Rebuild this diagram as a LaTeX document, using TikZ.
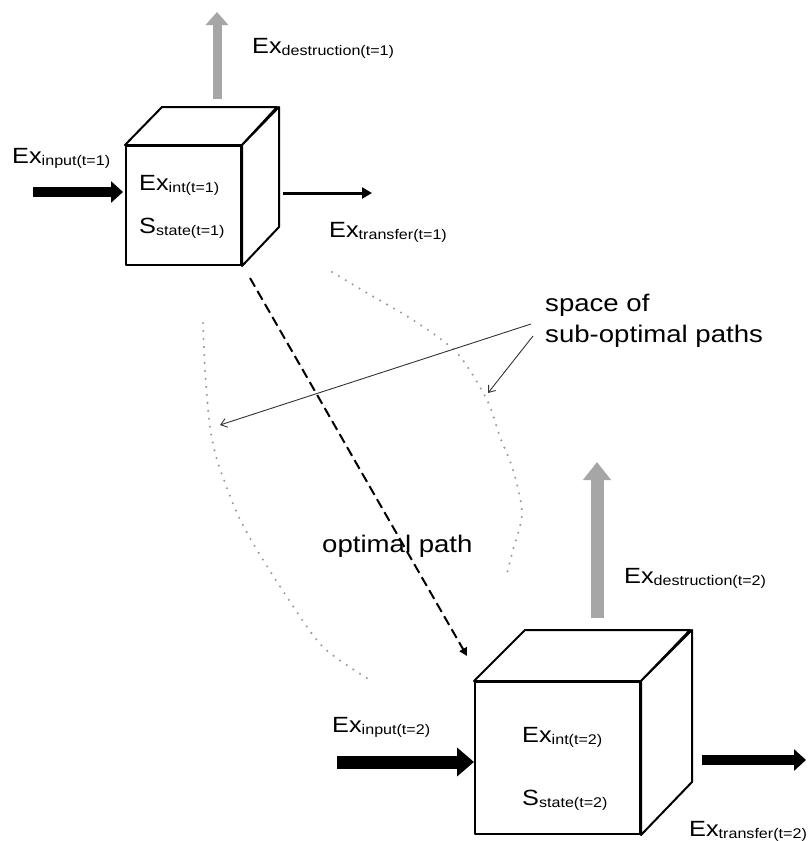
\documentclass[tikz,border=0pt]{standalone}
\usepackage{fontspec}
\setmainfont[FakeStretch=1.15]{Liberation Sans}
\usetikzlibrary{arrows.meta}
\definecolor{arrgray}{HTML}{A6A6A6}
\definecolor{dotgray}{HTML}{999999}
\newcommand\exl[2]{#1\raisebox{-2.5pt}{\fontsize{14}{14}\selectfont #2}}
\begin{document}
\begin{tikzpicture}[x=1pt,y=-1pt,
  lab/.style={anchor=base west, inner sep=0pt, font=\fontsize{22}{26}\selectfont},
  bigtxt/.style={inner sep=0pt, font=\fontsize{24}{31}\selectfont},
  face/.style={draw=black, line width=2pt, line join=round, fill=white},
  blk/.style={line width=#1, -{Triangle[length=12pt,width=21pt]}},
  blk2/.style={line width=13pt, -{Triangle[length=17pt,width=28pt]}},
  thinarr/.style={line width=3pt, -{Triangle[length=10pt,width=11pt]}},
  gry/.style={draw=arrgray, line width=#1},
  dotc/.style={draw=dotgray, line width=2.3pt, line cap=round, dash pattern=on 0pt off 8pt},
  note/.style={draw=black!80, line width=0.9pt, -{Straight Barb[length=6pt,width=9pt]}}
]
\useasboundingbox[fill=white] (0,0) rectangle (808,841);

% ---------- dotted space of sub-optimal paths ----------
\draw[dotc] plot[smooth] coordinates {(203,323) (205,370) (210,427) (218,463) (237,513) (257,550) (287,597) (323,647) (370,680)};
\draw[dotc] plot[smooth] coordinates {(332,272) (367,293) (413,320) (457,353) (487,400) (500,437) (513,470) (522,513) (513,550) (507,573)};

% ---------- cube 1 ----------
\node[face, minimum width=115pt, minimum height=119pt, inner sep=0pt] (c1) at (183.5,205.5) {};
\draw[face] (c1.north west) -- ++(37,-38) -- ++(115,0) -- (c1.north east) -- cycle;
\draw[face] (c1.north east) -- ++(37,-38) -- ++(0,120) -- (c1.south east) -- cycle;
\node[lab] (int1) at (139,190) {\exl{Ex}{int(t=1)}};
\node[lab] (st1) at (139,233) {\exl{S}{state(t=1)}};

% arrows cube 1
\coordinate (in1s) at (33,192);
\coordinate (in1e) at (123,192);
\draw[blk=10pt] (in1s) -- (in1e);
\node[lab] (in1) at (12,163) {\exl{Ex}{input(t=1)}};

\coordinate (d1s) at (217,99);
\coordinate (d1e) at (217,12);
\draw[gry=9pt, -{Triangle[length=13pt,width=22pt]}, arrgray] (d1s) -- (d1e);
\node[lab] (de1) at (252,53) {\exl{Ex}{destruction(t=1)}};

\coordinate (t1s) at (283,193);
\coordinate (t1e) at (372,193);
\draw[thinarr] (t1s) -- (t1e);
\node[lab] (tr1) at (329,237) {\exl{Ex}{transfer(t=1)}};

% ---------- cube 2 ----------
\node[face, minimum width=165pt, minimum height=152pt, inner sep=0pt] (c2) at (557.5,758) {};
\draw[face] (c2.north west) -- ++(51,-51) -- ++(165,0) -- (c2.north east) -- cycle;
\draw[face] (c2.north east) -- ++(51,-51) -- ++(0,152) -- (c2.south east) -- cycle;
\node[lab] (int2) at (522,742) {\exl{Ex}{int(t=2)}};
\node[lab] (st2) at (522,805) {\exl{S}{state(t=2)}};

\coordinate (in2s) at (337,762);
\coordinate (in2e) at (474,762);
\draw[blk2] (in2s) -- (in2e);
\node[lab] (in2) at (332,732) {\exl{Ex}{input(t=2)}};

\coordinate (d2s) at (597,618);
\coordinate (d2e) at (597,462);
\draw[gry=13pt, -{Triangle[length=18pt,width=27pt]}, arrgray] (d2s) -- (d2e);
\node[lab] (de2) at (624,583) {\exl{Ex}{destruction(t=2)}};

\coordinate (t2s) at (702,760);
\coordinate (t2e) at (806,760);
\draw[blk=10pt] (t2s) -- (t2e);
\node[lab] (tr2) at (689,836) {\exl{Ex}{transfer(t=2)}};

% ---------- optimal path ----------
\coordinate (op1) at (250,278);
\coordinate (op2) at (467,656);
\draw[line width=2pt, dash pattern=on 10pt off 5pt, -{Triangle[length=8pt,width=8pt]}] (op1) -- (op2);
\node[bigtxt, anchor=base west] (opt) at (322,552) {optimal path};

% ---------- annotation ----------
\node[bigtxt, anchor=west, align=left] (sp) at (545,321) {space of\\sub-optimal paths};
\coordinate (n1) at (220,425);
\coordinate (n2) at (488,393);
\draw[note] (sp.west |- 0,324) ++(-14,0) -- (n1);
\draw[note] (sp.west |- 0,336) ++(-12,0) -- (n2);
\end{tikzpicture}
\end{document}
